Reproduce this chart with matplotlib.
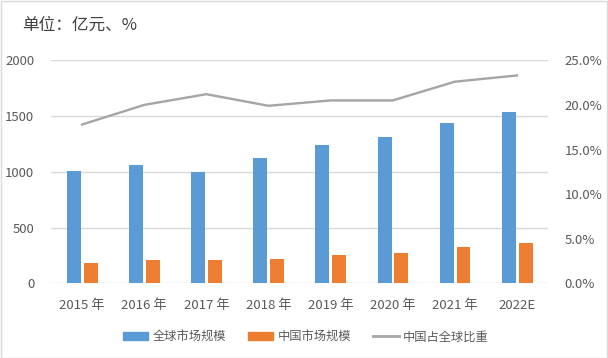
import matplotlib.pyplot as plt
import numpy as np
from matplotlib.patches import Rectangle
from matplotlib.lines import Line2D

plt.rcParams['font.family'] = ['Noto Sans CJK SC', 'DejaVu Sans']

years = ['2015 年', '2016 年', '2017 年', '2018 年', '2019 年', '2020 年', '2021 年', '2022E']
global_market = [1006, 1060, 996, 1122, 1239, 1311, 1436, 1534]
china_market = [180, 207, 207, 216, 251, 269, 323, 359]
china_share = [17.8, 20.0, 21.2, 19.9, 20.5, 20.5, 22.6, 23.3]

c_blue = '#5B9BD5'
c_orange = '#ED7D31'
c_gray = '#A5A5A5'
c_text = '#595959'

fig = plt.figure(figsize=(6.08, 3.58), dpi=100)
ax = fig.add_axes([0.0839, 0.2086, 0.8174, 0.623])

x = np.arange(len(years))
w = 0.225
ax.bar(x - 0.13, global_market, w, color=c_blue, zorder=3)
ax.bar(x + 0.14, china_market, w, color=c_orange, zorder=3)

ax.set_xlim(-0.5, len(years) - 0.5)
ax.set_ylim(0, 2000)
ax.set_yticks(np.arange(0, 2001, 500))
ax.grid(axis='y', color='#D9D9D9', linewidth=1, zorder=0)
for s in ax.spines.values():
    s.set_visible(False)
ax.set_xticks(x)
ax.set_xticklabels(years)
ax.tick_params(axis='both', length=0, labelsize=9.5, colors=c_text)
ax.tick_params(axis='x', pad=11)
ax.tick_params(axis='y', pad=12)

ax2 = ax.twinx()
ax2.plot(x, china_share, color=c_gray, linewidth=1.7, zorder=4)
ax2.set_ylim(0, 25)
ax2.set_yticks(np.arange(0, 25.1, 5))
ax2.set_yticklabels([f'{v:.1f}%' for v in np.arange(0, 25.1, 5)])
for s in ax2.spines.values():
    s.set_visible(False)
ax2.tick_params(axis='y', length=0, labelsize=9.5, colors=c_text, pad=12)

fig.text(0.036, 0.929, '单位：亿元、%', fontsize=12, color='#404040', va='center')

handles = [Rectangle((0, 0), 1, 1, color=c_blue),
           Rectangle((0, 0), 1, 1, color=c_orange),
           Line2D([0], [0], color=c_gray, linewidth=2)]
fig.legend(handles, ['全球市场规模', '中国市场规模', '中国占全球比重'],
           loc='center', bbox_to_anchor=(0.5025, 0.059), ncol=3, frameon=False,
           fontsize=8.8, handlelength=2.1, handleheight=0.55, columnspacing=1.8,
           handletextpad=0.33, labelcolor=c_text)

fig.patches.append(Rectangle((0.001, 0.001), 0.997, 0.997, transform=fig.transFigure,
                             fill=False, edgecolor='#D9D9D9', linewidth=1))

fig.savefig('out.png', dpi=100)
